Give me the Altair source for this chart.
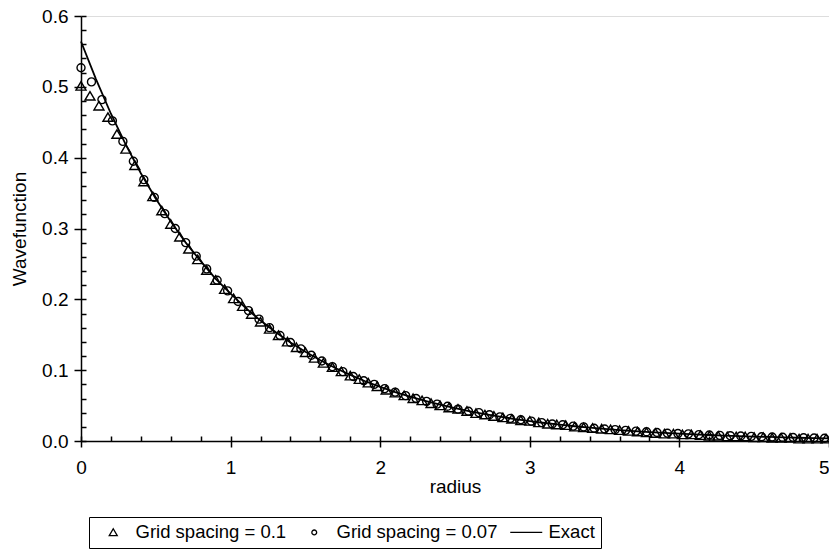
import altair as alt
import pandas as pd

# ---- series ----
tri_r = [0.00, 0.06, 0.12, 0.18, 0.24, 0.30, 0.36, 0.42, 0.48, 0.54,
         0.60, 0.66, 0.72, 0.78, 0.84, 0.90, 0.96, 1.02, 1.08, 1.14,
         1.20, 1.26, 1.32, 1.38, 1.44, 1.50, 1.56, 1.62, 1.68, 1.74,
         1.80, 1.86, 1.92, 1.98, 2.04, 2.10, 2.16, 2.22, 2.28, 2.34,
         2.40, 2.46, 2.52, 2.58, 2.64, 2.70, 2.76, 2.82, 2.88, 2.94,
         3.00, 3.06, 3.12, 3.18, 3.24, 3.30, 3.36, 3.42, 3.48, 3.54,
         3.60, 3.66, 3.72, 3.78, 3.84, 3.90, 3.96, 4.02, 4.08, 4.14,
         4.20, 4.26, 4.32, 4.38, 4.44, 4.50, 4.56, 4.62, 4.68, 4.74,
         4.80, 4.86, 4.92, 4.98]
tri_psi = [0.501, 0.487, 0.473, 0.457, 0.433, 0.412, 0.389, 0.366, 0.345, 0.325,
           0.306, 0.288, 0.271, 0.256, 0.241, 0.227, 0.214, 0.201, 0.190, 0.179,
           0.168, 0.158, 0.149, 0.140, 0.132, 0.125, 0.117, 0.110, 0.104, 0.098,
           0.092, 0.087, 0.082, 0.077, 0.072, 0.068, 0.064, 0.060, 0.057, 0.053,
           0.050, 0.047, 0.045, 0.042, 0.039, 0.037, 0.035, 0.033, 0.031, 0.029,
           0.028, 0.026, 0.024, 0.023, 0.022, 0.020, 0.019, 0.018, 0.017, 0.016,
           0.015, 0.014, 0.013, 0.012, 0.011, 0.010, 0.010, 0.009, 0.009, 0.008,
           0.007, 0.007, 0.006, 0.006, 0.006, 0.005, 0.005, 0.004, 0.004, 0.004,
           0.003, 0.003, 0.003, 0.003]

circ_r = [0.00, 0.07, 0.14, 0.21, 0.28, 0.35, 0.42, 0.49, 0.56, 0.63,
          0.70, 0.77, 0.84, 0.91, 0.98, 1.05, 1.12, 1.19, 1.26, 1.33,
          1.40, 1.47, 1.54, 1.61, 1.68, 1.75, 1.82, 1.89, 1.96, 2.03,
          2.10, 2.17, 2.24, 2.31, 2.38, 2.45, 2.52, 2.59, 2.66, 2.73,
          2.80, 2.87, 2.94, 3.01, 3.08, 3.15, 3.22, 3.29, 3.36, 3.43,
          3.50, 3.57, 3.64, 3.71, 3.78, 3.85, 3.92, 3.99, 4.06, 4.13,
          4.20, 4.27, 4.34, 4.41, 4.48, 4.55, 4.62, 4.69, 4.76, 4.83,
          4.90, 4.97]
circ_psi = [0.527, 0.507, 0.482, 0.452, 0.423, 0.395, 0.369, 0.344, 0.321, 0.300,
            0.280, 0.261, 0.243, 0.227, 0.212, 0.197, 0.184, 0.172, 0.160, 0.149,
            0.139, 0.130, 0.121, 0.113, 0.105, 0.098, 0.091, 0.085, 0.080, 0.074,
            0.069, 0.064, 0.060, 0.056, 0.052, 0.049, 0.045, 0.042, 0.040, 0.037,
            0.034, 0.032, 0.030, 0.028, 0.026, 0.024, 0.023, 0.021, 0.020, 0.018,
            0.017, 0.016, 0.015, 0.014, 0.013, 0.012, 0.011, 0.0105, 0.010, 0.009,
            0.0085, 0.008, 0.0075, 0.007, 0.0065, 0.006, 0.0056, 0.0052, 0.0049, 0.0045,
            0.0042, 0.0039]

exact_r = [0.0, 0.1, 0.2, 0.3, 0.4, 0.5, 0.6, 0.7, 0.8, 0.9,
           1.0, 1.1, 1.2, 1.3, 1.4, 1.5, 1.6, 1.7, 1.8, 1.9,
           2.0, 2.1, 2.2, 2.3, 2.4, 2.5, 2.6, 2.7, 2.8, 2.9,
           3.0, 3.1, 3.2, 3.3, 3.4, 3.5, 3.6, 3.7, 3.8, 3.9,
           4.0, 4.1, 4.2, 4.3, 4.4, 4.5, 4.6, 4.7, 4.8, 4.9, 5.0]
exact_psi = [0.564, 0.511, 0.462, 0.418, 0.378, 0.342, 0.310, 0.280, 0.254, 0.229,
             0.208, 0.188, 0.170, 0.154, 0.139, 0.126, 0.114, 0.103, 0.0933, 0.0844,
             0.0764, 0.0691, 0.0625, 0.0566, 0.0512, 0.0463, 0.0419, 0.0379, 0.0343, 0.0310,
             0.0281, 0.0254, 0.0230, 0.0208, 0.0188, 0.0170, 0.0154, 0.0139, 0.0126, 0.0114,
             0.0103, 0.0094, 0.0085, 0.0077, 0.0069, 0.0063, 0.0057, 0.0051, 0.0046, 0.0042,
             0.0038]

series_names = ["Grid spacing = 0.1", "Grid spacing = 0.07", "Exact"]

x_major = [0, 1, 2, 3, 4, 5]
x_minor = [0, 0.2, 0.4, 0.6, 0.8, 1.0, 1.2, 1.4, 1.6, 1.8, 2.0, 2.2, 2.4,
           2.6, 2.8, 3.0, 3.2, 3.4, 3.6, 3.8, 4.0, 4.2, 4.4, 4.6, 4.8, 5.0]
y_major = [0.0, 0.1, 0.2, 0.3, 0.4, 0.5, 0.6]
y_minor = [0.0, 0.02, 0.04, 0.06, 0.08, 0.10, 0.12, 0.14, 0.16, 0.18, 0.20,
           0.22, 0.24, 0.26, 0.28, 0.30, 0.32, 0.34, 0.36, 0.38, 0.40,
           0.42, 0.44, 0.46, 0.48, 0.50, 0.52, 0.54, 0.56, 0.58, 0.60]

df_tri = pd.DataFrame({"r": tri_r, "psi": tri_psi, "series": series_names[0]})
df_circ = pd.DataFrame({"r": circ_r, "psi": circ_psi, "series": series_names[1]})
df_exact = pd.DataFrame({"r": exact_r, "psi": exact_psi, "series": series_names[2]})

TRI = "M0,-0.9L1,0.8L-1,0.8Z"
CIRC = "M-0.6,0A0.6,0.6 0 1,0 0.6,0A0.6,0.6 0 1,0 -0.6,0Z"
LINE = "M-4,0L4,0"

xs = alt.Scale(domain=[0, 5], nice=False, zero=False)
ys = alt.Scale(domain=[0, 0.6], nice=False)
shape_scale = alt.Scale(domain=series_names, range=[TRI, CIRC, LINE])

FONT = "Liberation Sans"
FS = 19

legend = alt.Legend(
    title=None, orient="none", legendX=8, legendY=501, direction="horizontal",
    strokeColor="black", fillColor="white", padding=6,
    symbolSize=64, symbolStrokeWidth=1.3, symbolStrokeColor="black",
    symbolFillColor="transparent",
    labelFontSize=18.5, labelFont=FONT, labelColor="black", labelLimit=400,
    labelOffset=13, columnPadding=9, symbolOffset=9,
)

main_x_axis = alt.Axis(values=x_major, orient="bottom", tickSize=6, tickWidth=1.5,
                       domainWidth=1.5, domainColor="black", tickColor="black",
                       labelFontSize=FS, labelColor="black", labelFont=FONT,
                       labelPadding=11,
                       labelAlign={"expr": "datum.value == 5 ? 'right' : 'center'"},
                       title="radius", titleFontSize=FS,
                       titleFont=FONT, titleFontWeight="normal", titleColor="black",
                       titlePadding=0, grid=False, labelFlush=False)
main_y_axis = alt.Axis(values=y_major, orient="left", format=".1f", tickSize=7,
                       tickWidth=1.5, domainWidth=1.5, domainColor="black",
                       tickColor="black", labelFontSize=FS, labelColor="black",
                       labelFont=FONT, labelPadding=6, title="Wavefunction",
                       titleFontSize=FS, titleFont=FONT, titleFontWeight="normal",
                       titleColor="black", titlePadding=12, grid=False,
                       labelFlush=False)
minor_x_axis = alt.Axis(values=x_minor, orient="bottom", offset=-5, tickSize=5,
                        tickWidth=1.5, tickColor="black", labels=False, domain=False,
                        title=None, grid=False)
minor_y_axis = alt.Axis(values=y_minor, orient="left", offset=-5, tickSize=5,
                        tickWidth=1.5, tickColor="black", labels=False, domain=False,
                        title=None, grid=False)

minor = alt.Chart(df_exact).mark_line(opacity=0).encode(
    x=alt.X("r:Q", scale=xs, axis=minor_x_axis),
    y=alt.Y("psi:Q", scale=ys, axis=minor_y_axis),
)

tri = alt.Chart(df_tri).mark_point(filled=False, color="black", size=100,
                                   strokeWidth=1.4, opacity=1).encode(
    x=alt.X("r:Q", scale=xs, axis=None),
    y=alt.Y("psi:Q", scale=ys, axis=None),
    shape=alt.Shape("series:N", scale=shape_scale, legend=legend),
)

circ = alt.Chart(df_circ).mark_point(filled=False, color="black", size=178,
                                     strokeWidth=1.4, opacity=1).encode(
    x=alt.X("r:Q", scale=xs, axis=None),
    y=alt.Y("psi:Q", scale=ys, axis=None),
    shape=alt.Shape("series:N", scale=shape_scale, legend=legend),
)

exact = alt.Chart(df_exact).mark_line(color="black", strokeWidth=1.8).encode(
    x=alt.X("r:Q", scale=xs, axis=main_x_axis),
    y=alt.Y("psi:Q", scale=ys, axis=main_y_axis),
)

chart = alt.layer(minor, tri, circ, exact).resolve_axis(
    x="independent", y="independent"
).properties(
    width=748, height=425,
    autosize=alt.AutoSizeParams(type="none"),
    padding={"left": 73, "top": 8, "right": 0, "bottom": 110},
).configure_view(
    stroke="#8c8c8c", strokeWidth=1
).configure(font=FONT, background="white")

chart.save("out.html", embed_options={"renderer": "svg", "actions": False})
